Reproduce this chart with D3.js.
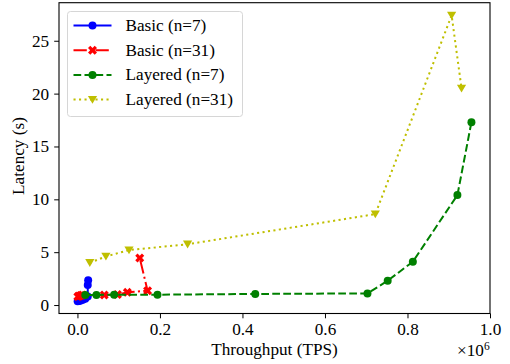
<!DOCTYPE html>
<html>
  <head>
    <meta charset="UTF-8" />
    <title>Latency vs Throughput</title>
    <script src="https://d3js.org/d3.v7.min.js"></script>
    <style>
      body { margin: 0; background: #fff; }
    </style>
  </head>
  <body>
    <div id="main"></div>
    <script type="text/javascript">
      const width = 510;
      const height = 364;
      const serif = "'Liberation Serif', 'Times New Roman', serif";
      const fontSize = 17.2;

      // throughput in units of 1e6 TPS, latency in seconds
      const basic7X = [0.0005, 0.004, 0.008, 0.013, 0.019, 0.025, 0.025, 0.026];
      const basic7Y = [0.35, 0.38, 0.42, 0.5, 0.6, 0.8, 1.9, 2.35];
      const basic31X = [0.001, 0.004, 0.008, 0.012, 0.065, 0.097, 0.121, 0.17, 0.151];
      const basic31Y = [0.8, 0.85, 0.9, 0.95, 0.95, 1.0, 1.2, 1.35, 4.45];
      const layered7X = [0.019, 0.046, 0.089, 0.194, 0.431, 0.703, 0.752, 0.813, 0.921, 0.955];
      const layered7Y = [0.95, 0.95, 0.98, 0.98, 1.05, 1.1, 2.3, 4.1, 10.4, 17.3];
      const layered31X = [0.03, 0.069, 0.125, 0.267, 0.722, 0.907, 0.931];
      const layered31Y = [4.0, 4.6, 5.2, 5.75, 8.6, 27.4, 20.5];

      const xTicks = [0, 0.2, 0.4, 0.6, 0.8, 1.0];
      const yTicks = [0, 5, 10, 15, 20, 25];

      const seriesNames = ['Basic (n=7)', 'Basic (n=31)', 'Layered (n=7)', 'Layered (n=31)'];
      const seriesX = [basic7X, basic31X, layered7X, layered31X];
      const seriesY = [basic7Y, basic31Y, layered7Y, layered31Y];
      const colors = ['#0000ff', '#ff0000', '#008000', '#bfbf00'];
      const dashes = [null, '13.3,3.3,2.1,3.3', '7.7,3.3', '2.1,3.4'];
      const markers = ['circle', 'x', 'circle', 'tri'];

      const plotLeft = 59, plotRight = 490, plotTop = 2.7, plotBottom = 313.5;

      const x = d3.scaleLinear().domain([-0.0447, 1.0]).range([plotLeft, plotRight]);
      const y = d3.scaleLinear().domain([-0.8, 28.6]).range([plotBottom, plotTop]);

      const svg = d3
        .select('div#main')
        .append('svg')
        .attr('width', width)
        .attr('height', height)
        .style('font-family', serif);

      const plot = svg.append('g');

      function markerPath(type) {
        if (type === 'circle') return d3.symbol(d3.symbolCircle, 50)();
        if (type === 'tri') {
          const s = 4.6;
          return `M${-s},${-s * 0.8}L${s},${-s * 0.8}L0,${s * 0.9}Z`;
        }
        // filled X
        const a = 4.5, b = 2.3;
        return `M${-a + b},${-a}L0,${-b}L${a - b},${-a}L${a},${-a + b}L${b},0L${a},${a - b}L${a - b},${a}L0,${b}L${-a + b},${a}L${-a},${a - b}L${-b},0L${-a},${-a + b}Z`;
      }

      const line = d3.line().x(d => x(d[0])).y(d => y(d[1]));

      seriesNames.forEach((name, i) => {
        const pts = seriesX[i].map((v, j) => [v, seriesY[i][j]]);
        plot
          .append('path')
          .datum(pts)
          .attr('d', line)
          .attr('fill', 'none')
          .attr('stroke', colors[i])
          .attr('stroke-width', 2)
          .attr('stroke-dasharray', dashes[i]);
        plot
          .selectAll('.m' + i)
          .data(pts)
          .enter()
          .append('path')
          .attr('class', 'm' + i)
          .attr('d', markerPath(markers[i]))
          .attr('transform', d => `translate(${x(d[0])},${y(d[1])})`)
          .attr('fill', colors[i]);
      });

      // axes
      const xAxis = d3.axisBottom(x).tickValues(xTicks).tickFormat(d3.format('.1f')).tickSizeOuter(0).tickSize(4.8).tickPadding(4);
      const yAxis = d3.axisLeft(y).tickValues(yTicks).tickSizeOuter(0).tickSize(4.8).tickPadding(5);

      const gx = svg.append('g').attr('transform', `translate(0,${plotBottom})`).call(xAxis);
      const gy = svg.append('g').attr('transform', `translate(${plotLeft},0)`).call(yAxis);
      [gx, gy].forEach(g => {
        g.attr('font-family', serif).attr('font-size', fontSize);
        g.select('.domain').remove();
        g.selectAll('text').attr('fill', '#000');
        g.selectAll('line').attr('stroke', '#000').attr('stroke-width', 1);
      });

      svg
        .append('rect')
        .attr('x', plotLeft)
        .attr('y', plotTop)
        .attr('width', plotRight - plotLeft)
        .attr('height', plotBottom - plotTop)
        .attr('fill', 'none')
        .attr('stroke', '#000')
        .attr('stroke-width', 1.1);

      // labels
      svg
        .append('text')
        .attr('x', (plotLeft + plotRight) / 2)
        .attr('y', 354.5)
        .attr('text-anchor', 'middle')
        .attr('font-size', fontSize)
        .text('Throughput (TPS)');

      svg
        .append('text')
        .attr('transform', `translate(24,156) rotate(-90)`)
        .attr('text-anchor', 'middle')
        .attr('font-size', fontSize)
        .text('Latency (s)');

      const mult = svg.append('text').attr('x', 457).attr('y', 356).attr('font-size', fontSize);
      mult.append('tspan').text('\u00d710');
      mult.append('tspan').attr('dy', -6.5).attr('font-size', 11.5).text('6');

      // legend
      const lg = svg.append('g').attr('transform', 'translate(67.5,11.5)');
      lg.append('rect')
        .attr('width', 175)
        .attr('height', 105)
        .attr('rx', 3)
        .attr('fill', '#fff')
        .attr('fill-opacity', 0.8)
        .attr('stroke', '#d6d6d6')
        .attr('stroke-width', 1);
      seriesNames.forEach((name, i) => {
        const ly = 14 + i * 24.7;
        lg.append('line')
          .attr('x1', 6)
          .attr('x2', 44)
          .attr('y1', ly)
          .attr('y2', ly)
          .attr('stroke', colors[i])
          .attr('stroke-width', 2)
          .attr('stroke-dasharray', dashes[i]);
        lg.append('path')
          .attr('d', markerPath(markers[i]))
          .attr('transform', `translate(25,${ly})`)
          .attr('fill', colors[i]);
        lg.append('text')
          .attr('x', 58)
          .attr('y', ly + 5.5)
          .attr('font-size', fontSize)
          .text(name);
      });
    </script>
  </body>
</html>
